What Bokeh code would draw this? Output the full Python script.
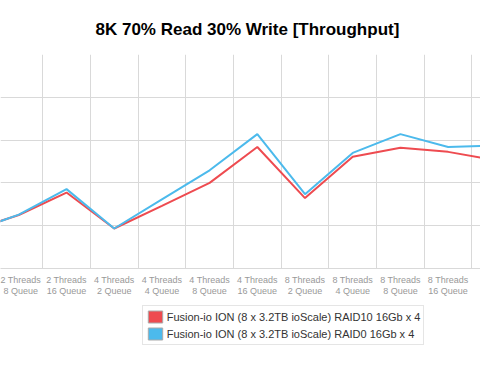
from bokeh.plotting import figure
from bokeh.layouts import column
from bokeh.models import Range1d, FixedTicker, Legend, LegendItem
from bokeh.embed import file_html
from bokeh.resources import INLINE

# ---- data ----
categories = [
    "2 Threads\n4 Queue", "2 Threads\n8 Queue", "2 Threads\n16 Queue",
    "4 Threads\n2 Queue", "4 Threads\n4 Queue", "4 Threads\n8 Queue",
    "4 Threads\n16 Queue", "8 Threads\n2 Queue", "8 Threads\n4 Queue",
    "8 Threads\n8 Queue", "8 Threads\n16 Queue", "16 Threads\n2 Queue",
]
raid10 = [178, 250, 355, 187, 293, 400, 568, 329, 522, 564, 545, 506]
raid0 = [172, 252, 371, 187, 323, 459, 628, 347, 540, 628, 568, 575]
y_ticks = [0, 200, 400, 600, 800, 1000]
series_names = [
    "Fusion-io ION (8 x 3.2TB ioScale) RAID10 16Gb x 4",
    "Fusion-io ION (8 x 3.2TB ioScale) RAID0 16Gb x 4",
]
title_text = "8K 70% Read 30% Write [Throughput]"

RED = "#ee4b50"
BLUE = "#4cbaec"
GRID = "#d9d9d9"
FONT = "Liberation Sans"
NAN = float("nan")

x = list(range(len(categories)))

# ---- main chart ----
p = figure(width=480, height=300, output_backend="svg", toolbar_location=None,
           x_range=Range1d(0.616, 10.679), y_range=Range1d(0, 1000),
           min_border_left=0, min_border_right=0,
           min_border_top=54, min_border_bottom=32)
p.outline_line_color = None
p.background_fill_color = "white"
p.border_fill_color = "white"

p.title.text = title_text
p.title.align = "left"
p.title.offset = 95
p.title.standoff = 32
p.title.text_font = FONT
p.title.text_font_size = "17px"
p.title.text_font_style = "bold"
p.title.text_color = "#000000"

p.yaxis.visible = False
p.yaxis.ticker = FixedTicker(ticks=y_ticks)
p.ygrid.grid_line_color = GRID
p.ygrid.grid_line_width = 1

p.xaxis.ticker = FixedTicker(ticks=x)
p.xaxis.major_label_overrides = {i: c for i, c in enumerate(categories)}
p.xaxis.axis_label = None
p.xaxis.axis_label_standoff = 0
p.xaxis.major_tick_out = 0
p.xaxis.major_tick_in = 0
p.xaxis.minor_tick_out = 0
p.xaxis.minor_tick_in = 0
p.xaxis.major_tick_line_color = None
p.xaxis.minor_tick_line_color = None
p.xaxis.axis_line_color = GRID
p.xaxis.major_label_text_font = FONT
p.xaxis.major_label_text_font_size = "9px"
p.xaxis.major_label_text_color = "#999999"
p.xaxis.major_label_standoff = 6
p.xaxis.major_label_text_line_height = 1.12
p.xgrid.ticker = FixedTicker(ticks=[i + 0.5 for i in range(-1, len(categories))])
p.xgrid.grid_line_color = GRID
p.xgrid.grid_line_width = 1

p.line(x, raid10, line_color=RED, line_width=2)
p.line(x, raid0, line_color=BLUE, line_width=2)

# ---- legend strip ----
q = figure(width=480, height=72, output_backend="svg", toolbar_location=None,
           x_range=Range1d(0, 1), y_range=Range1d(0, 1),
           x_axis_location=None, y_axis_location=None, min_border=0)
q.outline_line_color = None
q.border_fill_color = "white"
q.background_fill_color = "white"
q.grid.visible = False

sw10 = q.quad(left=[NAN], right=[NAN], top=[NAN], bottom=[NAN],
              fill_color=RED, line_color="#aaaaaa")
sw0 = q.quad(left=[NAN], right=[NAN], top=[NAN], bottom=[NAN],
             fill_color=BLUE, line_color="#aaaaaa")

legend = Legend(
    items=[LegendItem(label=series_names[0], renderers=[sw10]),
           LegendItem(label=series_names[1], renderers=[sw0])],
    location=(141.7, 26.7), orientation="vertical",
    padding=3, spacing=2, margin=0,
    glyph_width=18, glyph_height=15, label_height=15, label_standoff=3,
    label_text_font=FONT, label_text_font_size="11px", label_text_color="#333333",
    border_line_color="#cccccc", border_line_width=1,
    background_fill_color="white", background_fill_alpha=1.0,
)
q.add_layout(legend, "center")

open("out.html", "w").write(file_html(column(p, q, spacing=0), INLINE))
